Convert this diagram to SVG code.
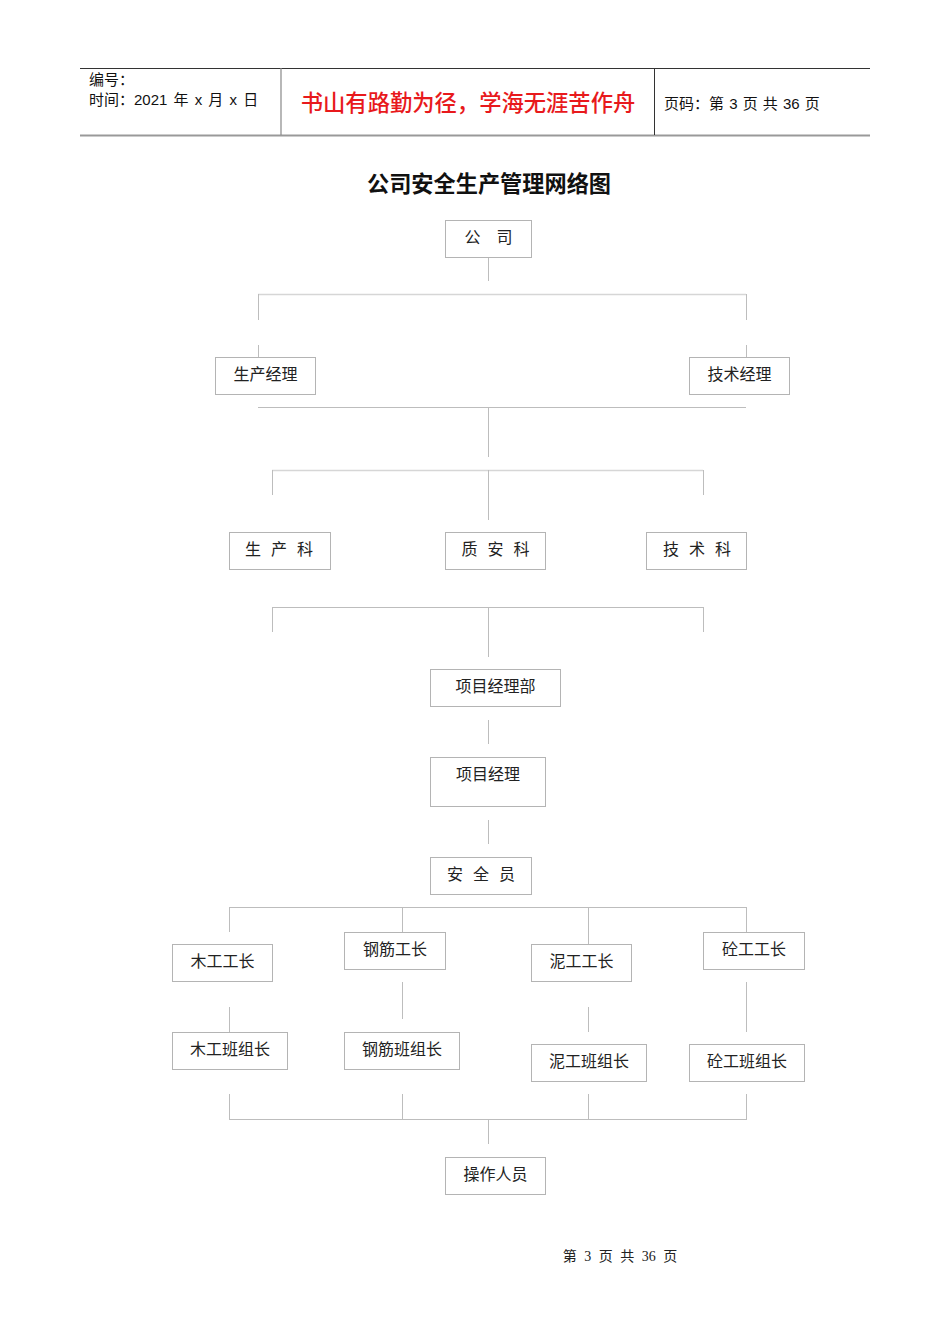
<svg xmlns="http://www.w3.org/2000/svg" width="950" height="1344" viewBox="0 0 950 1344">
<style>
.hdr{font-family:"Liberation Sans","Noto Sans CJK SC",sans-serif;font-size:15px;fill:#111}
.motto{font-family:"Noto Sans CJK SC",sans-serif;font-size:22.3px;fill:#e8191c;font-weight:500}
.title{font-family:"Noto Sans CJK SC",sans-serif;font-size:22.2px;font-weight:bold;fill:#111;text-anchor:middle}
.box{fill:#fff;stroke:#b4b4b4;stroke-width:1}
.lbl{font-family:"Liberation Serif","Noto Sans CJK SC",serif;font-size:16px;fill:#222;text-anchor:middle}
.sp{word-spacing:6px}
.con line{stroke:#bdbdbd;stroke-width:1}
.con line.lt{stroke:#d6d6d6;stroke-width:1.5}
.foot{font-family:"Liberation Serif","Noto Sans CJK SC",serif;font-size:14px;fill:#222;text-anchor:middle;word-spacing:4px}
</style>
<rect width="950" height="1344" fill="#fff"/>
<g id="header">
<line x1="80" y1="68.5" x2="870" y2="68.5" stroke="#333" stroke-width="1"/>
<line x1="80" y1="135.5" x2="870" y2="135.5" stroke="#999" stroke-width="2"/>
<line x1="281" y1="68" x2="281" y2="135" stroke="#888" stroke-width="1.2"/>
<line x1="654.5" y1="68" x2="654.5" y2="135" stroke="#333" stroke-width="1"/>
<text class="hdr" x="89" y="85">编号：</text>
<text class="hdr" x="89" y="105" style="word-spacing:2px">时间：2021 年 x 月 x 日</text>
<text class="motto" x="468" y="111" text-anchor="middle">书山有路勤为径，学海无涯苦作舟</text>
<text class="hdr" x="664" y="109" style="font-size:15px;word-spacing:1px">页码：第 3 页  共 36 页</text>
</g>
<text class="title" x="489" y="192">公司安全生产管理网络图</text>
<g class="con" id="connectors">
<line x1="488.5" y1="257" x2="488.5" y2="281"/>
<line class="lt" x1="258" y1="294.5" x2="746" y2="294.5"/>
<line x1="258.5" y1="294" x2="258.5" y2="320"/>
<line x1="746.5" y1="294" x2="746.5" y2="320"/>
<line x1="258.5" y1="345" x2="258.5" y2="367"/>
<line x1="746.5" y1="345" x2="746.5" y2="367"/>
<line x1="258" y1="407.5" x2="746" y2="407.5"/>
<line x1="488.5" y1="407" x2="488.5" y2="457"/>
<line class="lt" x1="272" y1="470.5" x2="703" y2="470.5"/>
<line x1="272.5" y1="470" x2="272.5" y2="495"/>
<line x1="703.5" y1="470" x2="703.5" y2="495"/>
<line x1="488.5" y1="470" x2="488.5" y2="520"/>
<line x1="272" y1="607.5" x2="703" y2="607.5"/>
<line x1="272.5" y1="607" x2="272.5" y2="632"/>
<line x1="703.5" y1="607" x2="703.5" y2="632"/>
<line x1="488.5" y1="607" x2="488.5" y2="657"/>
<line x1="488.5" y1="720" x2="488.5" y2="744"/>
<line x1="488.5" y1="820" x2="488.5" y2="844"/>
<line x1="229" y1="907.5" x2="746" y2="907.5"/>
<line x1="229.5" y1="907" x2="229.5" y2="932"/>
<line x1="402.5" y1="907" x2="402.5" y2="932"/>
<line x1="588.5" y1="907" x2="588.5" y2="944"/>
<line x1="746.5" y1="907" x2="746.5" y2="932"/>
<line x1="229.5" y1="1007" x2="229.5" y2="1032"/>
<line x1="402.5" y1="982" x2="402.5" y2="1019"/>
<line x1="588.5" y1="1007" x2="588.5" y2="1032"/>
<line x1="746.5" y1="982" x2="746.5" y2="1032"/>
<line x1="229.5" y1="1094" x2="229.5" y2="1119"/>
<line x1="402.5" y1="1094" x2="402.5" y2="1119"/>
<line x1="588.5" y1="1094" x2="588.5" y2="1119"/>
<line x1="746.5" y1="1094" x2="746.5" y2="1119"/>
<line x1="229" y1="1119.5" x2="747" y2="1119.5"/>
<line x1="488.5" y1="1119" x2="488.5" y2="1144"/>
</g>
<g id="n-company"><rect class="box" x="445.5" y="220.5" width="86" height="37"/><text class="lbl" x="488.5" y="243">公　司</text></g>
<g id="n-prodmgr"><rect class="box" x="215.5" y="357.5" width="100" height="37"/><text class="lbl" x="265.5" y="380">生产经理</text></g>
<g id="n-techmgr"><rect class="box" x="689.5" y="357.5" width="100" height="37"/><text class="lbl" x="739.5" y="380">技术经理</text></g>
<g id="n-prodsec"><rect class="box" x="229.5" y="532.5" width="101" height="37"/><text class="lbl sp" x="279" y="555">生 产 科</text></g>
<g id="n-qssec"><rect class="box" x="445.5" y="532.5" width="100" height="37"/><text class="lbl sp" x="495.5" y="555">质 安 科</text></g>
<g id="n-techsec"><rect class="box" x="646.5" y="532.5" width="100" height="37"/><text class="lbl sp" x="697" y="555">技 术 科</text></g>
<g id="n-pmdept"><rect class="box" x="430.5" y="669.5" width="130" height="37"/><text class="lbl" x="495.5" y="692">项目经理部</text></g>
<g id="n-pm"><rect class="box" x="430.5" y="757.5" width="115" height="49"/><text class="lbl" x="488" y="780">项目经理</text></g>
<g id="n-safety"><rect class="box" x="430.5" y="857.5" width="101" height="37"/><text class="lbl sp" x="481" y="880">安 全 员</text></g>
<g id="n-carp"><rect class="box" x="172.5" y="944.5" width="100" height="37"/><text class="lbl" x="222.5" y="967">木工工长</text></g>
<g id="n-rebar"><rect class="box" x="344.5" y="932.5" width="101" height="37"/><text class="lbl" x="395" y="955">钢筋工长</text></g>
<g id="n-mason"><rect class="box" x="531.5" y="944.5" width="100" height="37"/><text class="lbl" x="581.5" y="967">泥工工长</text></g>
<g id="n-concrete"><rect class="box" x="703.5" y="932.5" width="101" height="37"/><text class="lbl" x="754" y="955">砼工工长</text></g>
<g id="n-carp-lead"><rect class="box" x="172.5" y="1032.5" width="115" height="37"/><text class="lbl" x="230" y="1055">木工班组长</text></g>
<g id="n-rebar-lead"><rect class="box" x="344.5" y="1032.5" width="115" height="37"/><text class="lbl" x="402" y="1055">钢筋班组长</text></g>
<g id="n-mason-lead"><rect class="box" x="531.5" y="1044.5" width="115" height="37"/><text class="lbl" x="589" y="1067">泥工班组长</text></g>
<g id="n-concrete-lead"><rect class="box" x="689.5" y="1044.5" width="115" height="37"/><text class="lbl" x="747" y="1067">砼工班组长</text></g>
<g id="n-workers"><rect class="box" x="445.5" y="1157.5" width="100" height="37"/><text class="lbl" x="495.5" y="1180">操作人员</text></g>
<text class="foot" x="620" y="1261">第 3 页 共 36 页</text>
</svg>
